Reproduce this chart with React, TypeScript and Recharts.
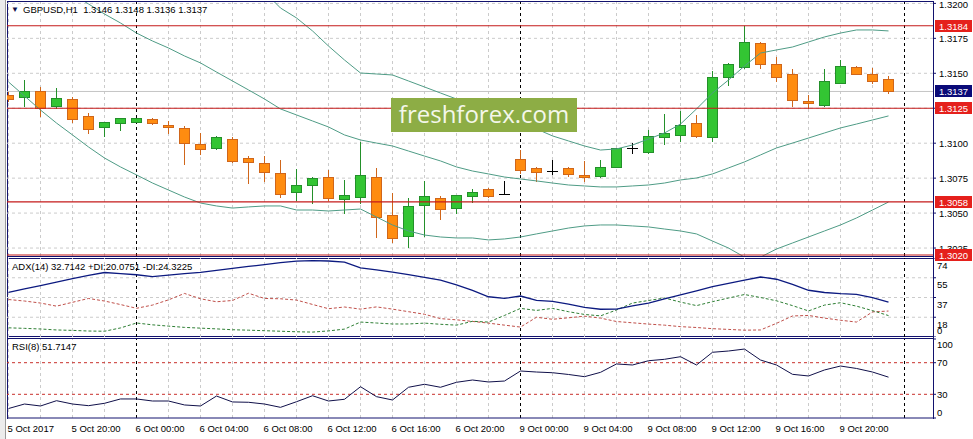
import React from "react";
import { ComposedChart, Bar, Line, XAxis, YAxis, ReferenceLine } from "recharts";

// GBPUSD H1, one entry per bar from 5 Oct 16:00 to 9 Oct 23:00
const open = [
  1.31345, 1.31328, 1.31373, 1.31268, 1.31314, 1.31195, 1.31118, 1.31142, 1.31154, 1.31171,
  1.3113, 1.31107, 1.30994, 1.30968, 1.31028, 1.30892, 1.30856, 1.30785, 1.30651, 1.30703,
  1.30756, 1.30599, 1.30617, 1.30756, 1.30486, 1.30336, 1.30558, 1.30606, 1.30534, 1.30622,
  1.3067, 1.30634, 1.30885, 1.30823, 1.30803, 1.30823, 1.30775, 1.30765, 1.30832, 1.30964,
  1.30939, 1.31042, 1.31057, 1.31142, 1.31046, 1.31471, 1.31547, 1.31715, 1.31567, 1.31495,
  1.31302, 1.31273, 1.31428, 1.31543, 1.31495, 1.3146,
];
const high = [
  1.31366, 1.31452, 1.31402, 1.31397, 1.31333, 1.31214, 1.31152, 1.3118, 1.31182, 1.31178,
  1.31161, 1.31123, 1.31075, 1.31054, 1.31042, 1.30908, 1.30908, 1.3088, 1.30813, 1.3076,
  1.30808, 1.30737, 1.31011, 1.3082, 1.30646, 1.3061, 1.3073, 1.30624, 1.30629, 1.3067,
  1.30677, 1.3073, 1.30951, 1.30832, 1.3088, 1.30832, 1.30873, 1.3088, 1.30968, 1.30999,
  1.31094, 1.31207, 1.3123, 1.31202, 1.31519, 1.31576, 1.31838, 1.31722, 1.31614, 1.31529,
  1.31345, 1.31529, 1.31595, 1.31552, 1.31536, 1.3148,
];
const low = [
  1.31302, 1.31266, 1.31198, 1.3125, 1.3115, 1.31075, 1.31054, 1.31094, 1.3115, 1.31137,
  1.31071, 1.30851, 1.30921, 1.30956, 1.30868, 1.30717, 1.30732, 1.30617, 1.30594, 1.30574,
  1.30594, 1.30503, 1.3057, 1.30331, 1.30295, 1.30255, 1.30338, 1.30458, 1.30503, 1.30582,
  1.30617, 1.30634, 1.30789, 1.3073, 1.3078, 1.30765, 1.3073, 1.30756, 1.30828, 1.30928,
  1.30928, 1.30996, 1.31018, 1.31046, 1.31018, 1.31416, 1.3154, 1.3154, 1.31445, 1.31266,
  1.3125, 1.31266, 1.31428, 1.31495, 1.31428, 1.3136,
];
const close = [
  1.31316, 1.31376, 1.31255, 1.31321, 1.31173, 1.31102, 1.3115, 1.31178, 1.31178, 1.31142,
  1.31123, 1.30999, 1.30956, 1.31042, 1.30875, 1.30868, 1.30796, 1.30634, 1.30699, 1.30753,
  1.30606, 1.30629, 1.3077, 1.30474, 1.30324, 1.30551, 1.30622, 1.30527, 1.30627, 1.30653,
  1.30624, 1.30634, 1.30808, 1.30796, 1.30803, 1.30778, 1.30756, 1.30832, 1.30964, 1.30964,
  1.31052, 1.31071, 1.31128, 1.31054, 1.31476, 1.31567, 1.31722, 1.31569, 1.31476, 1.31309,
  1.3129, 1.31445, 1.31552, 1.31495, 1.31447, 1.3137,
];

// Bollinger bands
const bbUpper = [
  1.3324, 1.33212, 1.33169, 1.33119, 1.33076, 1.33019, 1.32954, 1.3289, 1.32804, 1.32747,
  1.32697, 1.32632, 1.32575, 1.32468, 1.32353, 1.32217, 1.32082, 1.31967, 1.31896, 1.31803,
  1.31695, 1.31595, 1.31502, 1.31495, 1.31488, 1.31445, 1.31402, 1.31359, 1.31316, 1.3128,
  1.31252, 1.31202, 1.31159, 1.31102, 1.31052, 1.31016, 1.3098, 1.30951, 1.30959, 1.30987,
  1.3103, 1.31073, 1.31137, 1.31245, 1.31359, 1.31452, 1.31552, 1.31645, 1.31667, 1.31688,
  1.31724, 1.3176, 1.31788, 1.3181, 1.3181, 1.31803,
];
const bbMiddle = [
  1.32339, 1.32275, 1.32203, 1.32132, 1.32067, 1.31996, 1.31924, 1.3186, 1.31788, 1.31731,
  1.31681, 1.31624, 1.31574, 1.31509, 1.31445, 1.31381, 1.31316, 1.31245, 1.31202, 1.31159,
  1.31116, 1.31059, 1.31023, 1.31001, 1.3098, 1.30944, 1.30908, 1.30873, 1.3083, 1.30801,
  1.3078, 1.30758, 1.30744, 1.3073, 1.30715, 1.30701, 1.30694, 1.30687, 1.30687, 1.30694,
  1.30701, 1.30715, 1.30737, 1.30751, 1.3078, 1.30823, 1.30866, 1.30916, 1.30966, 1.31001,
  1.31037, 1.31073, 1.31109, 1.31137, 1.31166, 1.31195,
];
const bbLower = [
  1.31438, 1.31338, 1.31237, 1.31144, 1.31059, 1.30973, 1.30894, 1.3083, 1.30773, 1.30715,
  1.30665, 1.30615, 1.30572, 1.30551, 1.30536, 1.30544, 1.30551, 1.30551, 1.30522, 1.30522,
  1.30515, 1.30522, 1.30529, 1.30472, 1.30415, 1.30372, 1.30343, 1.30329, 1.30322, 1.30322,
  1.30308, 1.30315, 1.30329, 1.30351, 1.30372, 1.30393, 1.30408, 1.30415, 1.30415, 1.30408,
  1.30401, 1.30386, 1.30372, 1.30351, 1.303, 1.3025, 1.30185, 1.30185, 1.30243, 1.30286,
  1.30329, 1.30372, 1.30415, 1.30465, 1.30522, 1.30579,
];

// ADX(14)
const adx = [
  41.8, 45.0, 48.2, 51.3, 54.6, 57.7, 60.4, 59.3, 58.3, 56.5,
  57.9, 59.3, 60.5, 62.4, 64.2, 66.1, 67.8, 69.7, 71.1, 71.6,
  71.2, 70.2, 64.7, 62.8, 60.8, 58.5, 55.8, 53.2, 48.9, 43.6,
  37.7, 36.2, 38.4, 34.4, 33.3, 30.8, 27.7, 26.0, 26.1, 29.1,
  31.8, 35.8, 39.4, 43.2, 47.2, 50.3, 53.3, 56.2, 54.1, 49.2,
  43.8, 41.7, 40.6, 40.0, 36.9, 32.71,
];
const plusDi = [
  8.6, 8.1, 7.5, 6.6, 6.2, 5.6, 5.4, 8.5, 13.1, 11.4,
  10.2, 9.0, 8.3, 7.6, 6.8, 6.4, 5.9, 5.4, 4.9, 4.6,
  5.7, 7.4, 14.0, 13.1, 12.2, 12.2, 13.0, 11.9, 11.1, 14.7,
  14.0, 20.2, 26.8, 24.9, 26.8, 23.7, 21.1, 19.8, 25.3, 31.8,
  34.2, 36.5, 32.7, 29.4, 33.1, 36.5, 39.8, 37.0, 33.9, 29.4,
  24.4, 29.9, 32.1, 28.9, 24.7, 20.08,
];
const minusDi = [
  35.1, 33.7, 31.8, 28.9, 32.5, 36.1, 33.7, 30.4, 26.9, 29.9,
  34.8, 40.8, 35.8, 33.0, 34.2, 41.0, 36.1, 35.8, 34.6, 30.5,
  26.5, 28.1, 26.1, 28.2, 26.1, 23.7, 21.3, 17.2, 16.1, 14.6,
  13.0, 11.1, 9.3, 18.5, 16.6, 18.0, 19.5, 17.7, 14.5, 13.3,
  12.1, 11.1, 9.7, 8.9, 7.8, 7.1, 6.4, 6.6, 12.8, 19.7,
  20.2, 17.7, 15.7, 14.0, 23.5, 24.32,
];

// RSI(8)
const rsi = [
  12.0, 17.7, 15.2, 21.9, 17.7, 15.6, 18.6, 24.1, 24.1, 21.5,
  21.5, 16.5, 15.2, 27.8, 20.3, 19.9, 17.7, 13.5, 20.6, 28.2,
  21.5, 23.7, 39.6, 27.0, 22.8, 38.9, 42.7, 38.9, 45.2, 48.1,
  45.6, 46.8, 59.5, 58.2, 57.3, 55.1, 52.3, 57.8, 68.4, 67.1,
  72.5, 74.3, 77.6, 67.1, 83.2, 84.8, 87.3, 73.4, 67.1, 55.3,
  53.2, 60.8, 65.8, 62.7, 58.2, 51.71,
];

const timeLabels = [
  "5 Oct 2017", "5 Oct 20:00", "6 Oct 00:00", "6 Oct 04:00", "6 Oct 08:00", "6 Oct 12:00", "6 Oct 16:00",
  "6 Oct 20:00", "9 Oct 00:00", "9 Oct 04:00", "9 Oct 08:00", "9 Oct 12:00", "9 Oct 16:00", "9 Oct 20:00",
];
const timeLabelBars = [0, 4, 8, 12, 16, 20, 24, 28, 32, 36, 40, 44, 48, 52];
const daySeparatorBars = [8, 32, 56];

const priceTicks = [1.3025, 1.305, 1.3075, 1.31, 1.3125, 1.315, 1.3175, 1.32];
const srLevels = [1.3184, 1.3125, 1.3058, 1.302];
const lastPrice = 1.3137;
const adxTicks = [0, 18.5, 37, 55.5, 74];
const adxGrid = [18.5, 37, 55.5];
const rsiTicks = [0, 30, 70, 100];
const rsiLevels = [30, 70];

const rows = open.map((o, i) => ({
  bar: i,
  open: o,
  high: high[i],
  low: low[i],
  close: close[i],
  upper: bbUpper[i],
  middle: bbMiddle[i],
  lower: bbLower[i],
  adx: adx[i],
  plusDi: plusDi[i],
  minusDi: minusDi[i],
  rsi: rsi[i],
}));

// grid every second bar
const gridBars = Array.from({ length: 29 }, (_, i) => i * 2);

const X_DOMAIN: [number, number] = [-0.09375, 57.78125];
const PRICE_DOMAIN: [number, number] = [1.30193, 1.3201];
const FONT = '"Liberation Sans", Arial, sans-serif';
const NAVY = "#12126e";
const GRID = "#cbcbcb";
const W = 973;

const Candle = (props: any) => {
  const { x, y, width, height, payload } = props;
  if (!payload) return null;
  const { open: o, close: c, high: h, low: l } = payload;
  const cx = Math.floor(x + width / 2) + 0.5;
  const top = Math.min(y, y + height);
  const span = Math.abs(height);
  const toY = (v: number) => top + ((h - v) / (h - l || 1)) * span;
  const hiY = Math.round(toY(h));
  const loY = Math.round(toY(l));
  const bTop = Math.round(toY(Math.max(o, c))) + 0.5;
  const bBot = Math.round(toY(Math.min(o, c))) + 0.5;

  if (o === c) {
    return (
      <g>
        <line x1={cx} x2={cx} y1={hiY} y2={loY + 1} stroke="#000" />
        <line x1={cx - 5.5} x2={cx + 5.5} y1={bTop} y2={bTop} stroke="#000" />
      </g>
    );
  }
  const up = c > o;
  const fill = up ? "#33c533" : "#ff8c10";
  const stroke = up ? "#23902a" : "#d0661a";
  return (
    <g>
      <line x1={cx} x2={cx} y1={hiY} y2={loY + 1} stroke={stroke} />
      <rect x={cx - 5} y={bTop} width={10} height={Math.max(bBot - bTop, 2)} fill={fill} stroke={stroke} />
    </g>
  );
};

const priceTick = (props: any) => {
  const { x, y, payload } = props;
  return (
    <text x={x} y={Math.max(y, 4) + 4} fontSize={9.5} fontFamily={FONT} fill="#000">
      {payload.value.toFixed(4)}
    </text>
  );
};

const adxTick = (props: any) => {
  const { x, y, payload } = props;
  const cy = Math.min(y + 7, 72);
  return (
    <text x={x} y={cy + 3.5} fontSize={9.5} fontFamily={FONT} fill="#000">
      {Math.floor(payload.value)}
    </text>
  );
};

const rsiTick = (props: any) => {
  const { x, y, payload } = props;
  const cy = Math.max(6, Math.min(y, 74));
  return (
    <text x={x} y={cy + 3.5} fontSize={9.5} fontFamily={FONT} fill="#000">
      {payload.value}
    </text>
  );
};

const timeTick = (props: any) => {
  const { x, y, payload } = props;
  const idx = timeLabelBars.indexOf(payload.value);
  return (
    <text x={x - 1} y={y + 14} fontSize={9.5} fontFamily={FONT} fill="#000">
      {timeLabels[idx]}
    </text>
  );
};

const priceTag = (value: number, bg: string) => (p: any) => {
  const vb = p.viewBox || {};
  const tx = vb.x + vb.width + 2;
  const ty = Math.round(vb.y);
  return (
    <g>
      <rect x={tx} y={ty - 6} width={37} height={12} fill={bg} />
      <text x={tx + 4} y={ty + 4} fill="#fff" fontSize={9.5} fontFamily={FONT}>
        {value.toFixed(4)}
      </text>
    </g>
  );
};

// gray dashed grid + black dashed day separators
const grids = (hVals: number[]) => [
  ...hVals.map((v) => <ReferenceLine key={`hg${v}`} y={v} stroke={GRID} strokeDasharray="3 3" />),
  ...gridBars.map((b) => <ReferenceLine key={`vg${b}`} x={b} stroke={GRID} strokeDasharray="3 3" />),
  ...daySeparatorBars.map((b) => <ReferenceLine key={`ds${b}`} x={b} stroke="#000" strokeDasharray="3 3" />),
];

const hline = (style: React.CSSProperties) => (
  <div style={{ position: "absolute", background: NAVY, ...style }} />
);

const abs = (top: number): React.CSSProperties => ({ position: "absolute", left: 0, top });

export default function App() {
  return (
    <div
      style={{
        position: "absolute",
        left: 0,
        top: 0,
        width: W,
        height: 439,
        background: "#fff",
        overflow: "hidden",
        fontFamily: FONT,
      }}
    >
      {/* window frame and panel borders */}
      <div style={{ position: "absolute", left: 0, top: 0, width: 5, height: 439, background: "#ececec" }} />
      <div style={{ position: "absolute", left: 5, top: 0, width: 1, height: 439, background: "#9a9a9a" }} />
      {hline({ left: 7, top: 1, width: 927, height: 1 })}
      {hline({ left: 7, top: 256, width: 927, height: 1 })}
      {hline({ left: 7, top: 258, width: 927, height: 1 })}
      {hline({ left: 7, top: 336, width: 927, height: 1 })}
      {hline({ left: 7, top: 338, width: 927, height: 1 })}
      {hline({ left: 7, top: 1, width: 1, height: 418 })}
      {hline({ left: 933, top: 1, width: 1, height: 418 })}

      {/* RSI window */}
      <div style={abs(338)}>
        <ComposedChart width={W} height={101} data={rows} margin={{ top: 1, right: 0, bottom: 0, left: 7 }}>
          <XAxis
            dataKey="bar"
            type="number"
            domain={X_DOMAIN}
            allowDataOverflow
            ticks={timeLabelBars}
            interval={0}
            height={21}
            tickSize={0}
            tickMargin={0}
            tickLine={false}
            axisLine={{ stroke: NAVY }}
            tick={timeTick}
          />
          <YAxis
            orientation="right"
            width={40}
            domain={[0, 100]}
            allowDataOverflow
            ticks={rsiTicks}
            interval={0}
            axisLine={false}
            tickLine={{ stroke: NAVY }}
            tickSize={3}
            tickMargin={1}
            tick={rsiTick}
          />
          {grids([])}
          {rsiLevels.map((v) => (
            <ReferenceLine key={`rl${v}`} y={v} stroke="#c8302c" strokeDasharray="3 3" />
          ))}
          <Line dataKey="rsi" type="linear" stroke="#10104a" strokeWidth={1} dot={false} isAnimationActive={false} />
        </ComposedChart>
      </div>

      {/* ADX window */}
      <div style={abs(258)}>
        <ComposedChart width={W} height={79} data={rows} margin={{ top: 0, right: 0, bottom: 0, left: 7 }}>
          <XAxis dataKey="bar" type="number" domain={X_DOMAIN} allowDataOverflow hide />
          <YAxis
            orientation="right"
            width={40}
            domain={[0, 74]}
            allowDataOverflow
            ticks={adxTicks}
            interval={0}
            axisLine={false}
            tickLine={{ stroke: NAVY }}
            tickSize={3}
            tickMargin={1}
            tick={adxTick}
          />
          {grids(adxGrid)}
          <Line dataKey="minusDi" type="linear" stroke="#c0504a" strokeWidth={1} strokeDasharray="3 2" dot={false} isAnimationActive={false} />
          <Line dataKey="plusDi" type="linear" stroke="#2f7f35" strokeWidth={1} strokeDasharray="3 2" dot={false} isAnimationActive={false} />
          <Line dataKey="adx" type="linear" stroke="#0c1a80" strokeWidth={1.3} dot={false} isAnimationActive={false} />
        </ComposedChart>
      </div>

      {/* price window, lower layer: grid, price labels, last price */}
      <div style={abs(0)}>
        <ComposedChart width={W} height={264} data={rows} margin={{ top: 2, right: 0, bottom: 8, left: 7 }}>
          <XAxis dataKey="bar" type="number" domain={X_DOMAIN} allowDataOverflow hide />
          <YAxis
            orientation="right"
            width={40}
            domain={PRICE_DOMAIN}
            allowDataOverflow
            ticks={priceTicks}
            interval={0}
            axisLine={false}
            tickLine={{ stroke: NAVY }}
            tickSize={3}
            tickMargin={3}
            tick={priceTick}
          />
          {grids(priceTicks)}
          <ReferenceLine y={lastPrice} stroke="#c4c4c4" />
        </ComposedChart>
      </div>

      {/* price window, upper layer: candles, bands, levels */}
      <div style={abs(0)}>
        <ComposedChart width={W} height={264} data={rows} margin={{ top: 2, right: 0, bottom: 8, left: 7 }}>
          <XAxis dataKey="bar" type="number" domain={X_DOMAIN} allowDataOverflow hide />
          <YAxis orientation="right" width={40} domain={PRICE_DOMAIN} allowDataOverflow axisLine={false} tick={false} tickLine={false} />
          <Bar
            dataKey={(d: any) => [d.low, d.high]}
            barSize={11}
            shape={(p: any) => <Candle {...p} />}
            isAnimationActive={false}
          />
          <Line dataKey="upper" type="linear" stroke="#4f9c86" strokeWidth={1} dot={false} isAnimationActive={false} />
          <Line dataKey="middle" type="linear" stroke="#4f9c86" strokeWidth={1} dot={false} isAnimationActive={false} />
          <Line dataKey="lower" type="linear" stroke="#4f9c86" strokeWidth={1} dot={false} isAnimationActive={false} />
          <ReferenceLine y={lastPrice} stroke="none" label={priceTag(lastPrice, "#0a0a78")} />
          {srLevels.map((v) => (
            <ReferenceLine key={`sr${v}`} y={v} stroke="#c41a1a" strokeWidth={1.2} label={priceTag(v, "#e5201c")} />
          ))}
        </ComposedChart>
      </div>

      {/* watermark */}
      <div
        style={{
          position: "absolute",
          left: 391,
          top: 98,
          width: 186,
          height: 34,
          background: "#8dad45",
          color: "#f4f7ea",
          fontFamily: '"Open Sans", sans-serif',
          fontSize: 24,
          lineHeight: "32px",
          textAlign: "center",
        }}
      >
        freshforex.com
      </div>

      {/* window titles */}
      <div style={{ position: "absolute", left: 11, top: 4, fontSize: 8, lineHeight: "12px", color: "#10104a" }}>▼</div>
      <div style={{ position: "absolute", left: 23, top: 4, fontSize: 9.5, lineHeight: "12px", color: "#000", whiteSpace: "pre" }}>
        {"GBPUSD,H1  1.3146 1.3148 1.3136 1.3137"}
      </div>
      <div style={{ position: "absolute", left: 12, top: 261, fontSize: 9.5, lineHeight: "12px", color: "#000", whiteSpace: "pre" }}>
        {"ADX(14) 32.7142 +DI:20.0751 -DI:24.3225"}
      </div>
      <div style={{ position: "absolute", left: 12, top: 341, fontSize: 9.5, lineHeight: "12px", color: "#000", whiteSpace: "pre" }}>
        {"RSI(8) 51.7147"}
      </div>
    </div>
  );
}
